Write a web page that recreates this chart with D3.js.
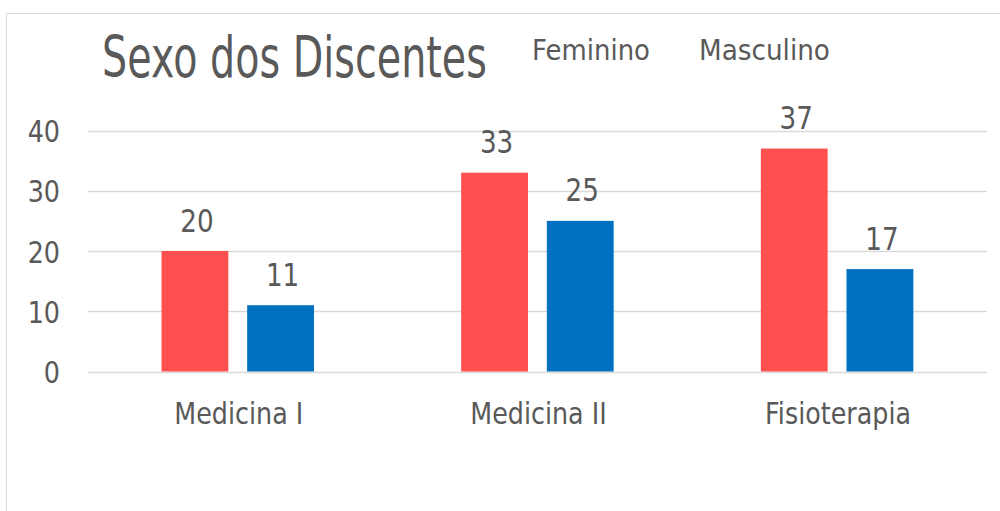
<!DOCTYPE html>
<html><head><meta charset="utf-8">
<script src="https://cdn.jsdelivr.net/npm/d3@7"></script>
<style>html,body{margin:0;padding:0;background:#fff;}svg{display:block;font-family:"DejaVu Sans",sans-serif;}</style>
</head><body>
<script>
const categories = ["Medicina I", "Medicina II", "Fisioterapia"];
const seriesNames = ["Feminino", "Masculino"];
const feminino = [20, 33, 37];
const masculino = [11, 25, 17];
const yTicks = [0, 10, 20, 30, 40];
const title = "Sexo dos Discentes";

const W = 1000, H = 511;
const colors = {Feminino: "#FF5050", Masculino: "#0070C0"};
const textColor = "#595959";
const squeeze = 0.82;

const svg = d3.select("body").append("svg").attr("width", W).attr("height", H);

// border
svg.append("path").attr("d", "M6.5,511 V13.5 H1000").attr("fill", "none").attr("stroke", "#d9d9d9").attr("stroke-width", 1);

const x = d3.scaleBand().domain(categories).range([88, 987]).paddingInner(0).paddingOuter(0);
const x1 = d3.scaleBand().domain(seriesNames).range([73.5, 226]).paddingInner(0.22);
const y = d3.scaleLinear().domain([0, 40]).range([371.5, 130.5]);

// place text at (px,py) with horizontal compression via transform, anchor: start|middle|end
function placeText(g, str, px, py, size, anchor, opts) {
  const t = g.append("text").attr("font-size", size).attr("fill", textColor).text(str);
  const len = t.node().getComputedTextLength();
  const sx = opts.width ? opts.width / len : opts.f;
  const w = len * sx;
  const left = anchor === "middle" ? px - w / 2 : anchor === "end" ? px - w : px;
  t.attr("transform", `translate(${left},${py}) scale(${sx},1)`);
  return t;
}

// gridlines
svg.append("g").selectAll("line").data(yTicks).join("line")
  .attr("x1", 88).attr("x2", 987)
  .attr("y1", d => Math.round(y(d)) + 0.5).attr("y2", d => Math.round(y(d)) + 0.5)
  .attr("stroke", "#d9d9d9").attr("stroke-width", 1.5);

// y tick labels
const yl = svg.append("g");
yTicks.forEach(d => placeText(yl, String(d), 60, y(d) + 11.5, 31, "end", {f: squeeze}));

const data = categories.map((c, i) => ({cat: c, vals: [
  {s: "Feminino", v: feminino[i]}, {s: "Masculino", v: masculino[i]}]}));

svg.append("g").selectAll("g").data(data).join("g")
  .attr("transform", d => `translate(${x(d.cat)},0)`)
  .selectAll("rect").data(d => d.vals).join("rect")
  .attr("x", d => x1(d.s)).attr("width", x1.bandwidth())
  .attr("y", d => y(d.v)).attr("height", d => y(0) - y(d.v))
  .attr("fill", d => colors[d.s]);

// data labels
const dl = svg.append("g");
data.forEach(d => d.vals.forEach(v => {
  placeText(dl, String(v.v), x(d.cat) + x1(v.s) + x1.bandwidth() / 2 + 2, y(v.v) - 19.5, 32, "middle", {f: squeeze});
}));

// category labels
const cl = svg.append("g");
categories.forEach(c => placeText(cl, c, x(c) + x.bandwidth() / 2 + 1, 424, 31, "middle", {f: squeeze}));

// title
placeText(svg, title, 102, 77, 57, "start", {width: 385});

// legend (text only)
const legendX = [532, 699];
const legendW = [118, 131];
seriesNames.forEach((s, i) => placeText(svg, s, legendX[i], 60, 29, "start", {width: legendW[i]}));
</script>
</body></html>
